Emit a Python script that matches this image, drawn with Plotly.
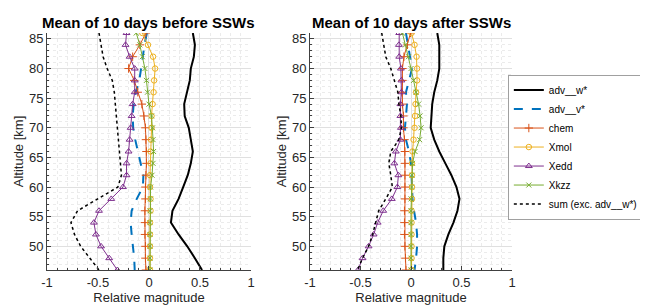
import plotly.graph_objects as go

alt = [86, 84, 82, 80, 78, 76, 74, 72, 70, 68, 66, 64, 62, 60, 58, 56, 54, 52, 50, 48, 46]

# Before SSWs
b_advw = [0.43, 0.45, 0.44, 0.41, 0.40, 0.37, 0.345, 0.35, 0.39, 0.41, 0.43, 0.41, 0.38, 0.335, 0.29, 0.23, 0.215, 0.29, 0.375, 0.45, 0.52]
b_advv = [-0.02, -0.045, -0.06, -0.08, -0.095, -0.13, -0.15, -0.16, -0.155, -0.135, -0.11, -0.08, -0.055, -0.06, -0.12, -0.17, -0.18, -0.17, -0.155, -0.145, -0.14]
b_chem = [-0.03, -0.09, -0.16, -0.20, -0.145, -0.11, -0.07, -0.05, -0.035, -0.03, -0.025, -0.025, -0.03, -0.035, -0.035, -0.04, -0.04, -0.04, -0.035, -0.035, -0.03]
b_xmol = [-0.065, -0.01, 0.04, 0.06, 0.05, 0.045, 0.035, 0.025, 0.025, 0.02, 0.015, 0.015, 0.01, 0.01, 0.015, 0.015, 0.01, 0.01, 0.01, 0.01, 0.01]
b_xedd = [-0.22, -0.23, -0.19, -0.14, -0.14, -0.14, -0.16, -0.17, -0.18, -0.19, -0.20, -0.22, -0.22, -0.255, -0.37, -0.49, -0.54, -0.52, -0.47, -0.39, -0.31]
b_xkzz = [-0.125, -0.09, -0.065, -0.04, -0.025, -0.015, 0.0, 0.025, 0.035, 0.04, 0.045, 0.04, 0.03, 0.015, 0.015, 0.01, 0.01, 0.01, 0.01, 0.01, 0.01]
b_sum = [-0.49, -0.47, -0.45, -0.41, -0.36, -0.34, -0.33, -0.32, -0.31, -0.30, -0.285, -0.28, -0.27, -0.305, -0.51, -0.70, -0.765, -0.73, -0.67, -0.58, -0.49]

# After SSWs
a_advw = [0.26, 0.28, 0.28, 0.28, 0.26, 0.23, 0.21, 0.20, 0.195, 0.23, 0.28, 0.34, 0.40, 0.45, 0.48, 0.46, 0.42, 0.37, 0.33, 0.32, 0.32]
a_advv = [-0.05, -0.03, -0.015, 0.01, -0.02, -0.05, -0.04, -0.05, -0.06, -0.05, -0.02, 0.0, 0.005, 0.01, 0.015, 0.03, 0.05, 0.06, 0.06, 0.05, 0.035]
a_chem = [-0.005, -0.035, -0.07, -0.085, -0.085, -0.09, -0.085, -0.075, -0.075, -0.065, -0.06, -0.06, -0.06, -0.06, -0.06, -0.065, -0.065, -0.065, -0.06, -0.055, -0.05]
a_xmol = [0.005, 0.035, 0.055, 0.06, 0.06, 0.05, 0.045, 0.04, 0.035, 0.025, 0.015, 0.01, 0.01, 0.01, 0.01, 0.005, 0.005, 0.005, 0.005, 0.005, 0.005]
a_xedd = [-0.117, -0.12, -0.117, -0.10, -0.095, -0.095, -0.105, -0.105, -0.10, -0.105, -0.15, -0.165, -0.125, -0.135, -0.19, -0.275, -0.33, -0.37, -0.42, -0.48, -0.525]
a_xkzz = [-0.085, -0.055, -0.025, 0.0, 0.025, 0.05, 0.075, 0.09, 0.1, 0.085, 0.04, 0.015, 0.01, 0.005, 0.0, 0.0, 0.0, 0.0, 0.0, 0.0, 0.0]
a_sum = [-0.29, -0.27, -0.25, -0.20, -0.165, -0.13, -0.12, -0.10, -0.095, -0.12, -0.20, -0.22, -0.20, -0.185, -0.25, -0.32, -0.35, -0.38, -0.42, -0.48, -0.53]

names = ["adv__w*", "adv__v*", "chem", "Xmol", "Xedd", "Xkzz", "sum (exc. adv__w*)"]
titles = ["Mean of 10 days before SSWs", "Mean of 10 days after SSWs"]

styles = [
    dict(line=dict(color="black", width=2), mode="lines"),
    dict(line=dict(color="#0072BD", width=2, dash="dash"), mode="lines"),
    dict(line=dict(color="#D95319", width=1), mode="lines+markers",
         marker=dict(symbol="cross-thin", size=6, line=dict(color="#D95319", width=1))),
    dict(line=dict(color="#EDB120", width=1), mode="lines+markers",
         marker=dict(symbol="circle-open", size=5.5, line=dict(color="#EDB120", width=1))),
    dict(line=dict(color="#7E2F8E", width=1), mode="lines+markers",
         marker=dict(symbol="triangle-up-open", size=6, line=dict(color="#7E2F8E", width=1))),
    dict(line=dict(color="#77AC30", width=1), mode="lines+markers",
         marker=dict(symbol="x-thin", size=5, line=dict(color="#77AC30", width=1))),
    dict(line=dict(color="black", width=1.5, dash="dot"), mode="lines"),
]

fig = go.Figure()
datasets = [
    [b_advw, b_advv, b_chem, b_xmol, b_xedd, b_xkzz, b_sum],
    [a_advw, a_advv, a_chem, a_xmol, a_xedd, a_xkzz, a_sum],
]
for p, ds in enumerate(datasets):
    for i, vals in enumerate(ds):
        fig.add_trace(go.Scatter(
            x=vals, y=alt, name=names[i], showlegend=(p == 0),
            xaxis="x" if p == 0 else "x2", yaxis="y" if p == 0 else "y2",
            **styles[i]))

font = "Liberation Sans, Arial, sans-serif"
tickfont = dict(family=font, size=13, color="#262626")
common_x = dict(range=[-1, 1], tickvals=[-1, -0.5, 0, 0.5, 1],
                ticktext=["-1", "-0.5", "0", "0.5", "1"], automargin=False,
                showgrid=True, gridcolor="#e0e0e0", gridwidth=1,
                zeroline=False, showline=True, linecolor="#404040", linewidth=1,
                ticks="inside", ticklen=4, tickcolor="#404040", tickfont=tickfont,
                minor=dict(dtick=0.1, showgrid=True, gridcolor="#ebebeb", griddash="dot",
                           ticks="inside", ticklen=2, tickcolor="#404040"),
                title=dict(text="Relative magnitude", font=dict(family=font, size=13, color="#262626"),
                           standoff=2))
common_y = dict(range=[46, 86], tickvals=[50, 55, 60, 65, 70, 75, 80, 85], automargin=False,
                showgrid=True, gridcolor="#e0e0e0", gridwidth=1,
                zeroline=False, showline=True, linecolor="#404040", linewidth=1,
                ticks="inside", ticklen=4, tickcolor="#404040", tickfont=tickfont,
                minor=dict(dtick=1, showgrid=True, gridcolor="#ebebeb", griddash="dot",
                           ticks="inside", ticklen=2, tickcolor="#404040"),
                title=dict(text="Altitude [km]", font=dict(family=font, size=13, color="#262626"),
                           standoff=2))

# page body has an 8px margin, so the figure is 640x299 drawn at (8, 8)
xdom1 = [0.0609, 0.3797]
xdom2 = [0.4719, 0.7875]
ydom = [0.1237, 0.9164]
fig.update_layout(
    width=640, height=299,
    margin=dict(l=0, r=0, t=0, b=0, autoexpand=False),
    paper_bgcolor="white", plot_bgcolor="white",
    font=dict(family=font, size=12, color="#262626"),
    xaxis=dict(domain=xdom1, anchor="y", **common_x),
    yaxis=dict(domain=ydom, anchor="x", **common_y),
    xaxis2=dict(domain=xdom2, anchor="y2", **common_x),
    yaxis2=dict(domain=ydom, anchor="x2", **common_y),
    legend=dict(x=0.781, y=0.535, xanchor="left", yanchor="middle",
                bordercolor="#a0a0a0", borderwidth=1, bgcolor="white",
                font=dict(family=font, size=10, color="black"),
                itemwidth=30, tracegroupgap=0),
    showlegend=True,
)
for k, t in enumerate(titles):
    dom = xdom1 if k == 0 else xdom2
    fig.add_annotation(text="<b>" + t + "</b>", x=(dom[0] + dom[1]) / 2, y=0.953,
                       xref="paper", yref="paper", xanchor="center", yanchor="middle",
                       showarrow=False, font=dict(family=font, size=15, color="black"))

fig.write_html("out.html")
